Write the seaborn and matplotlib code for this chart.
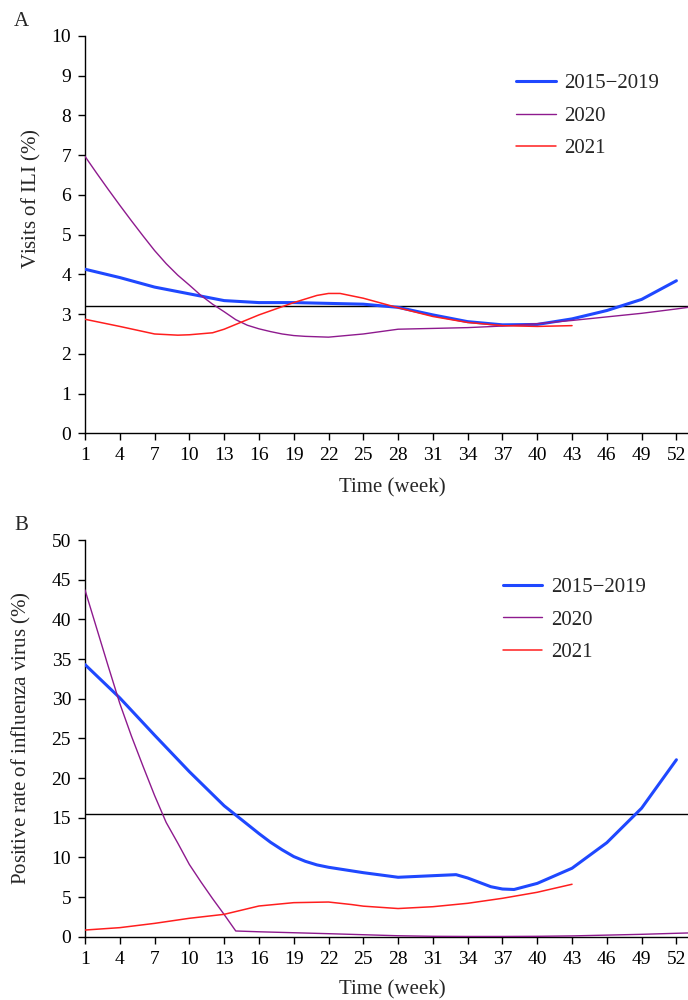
import numpy as np
import pandas as pd
import matplotlib
matplotlib.use("Agg")
import matplotlib.pyplot as plt
import seaborn as sns

# ---- panel A: ILI visits (%) ----
weeks_a_base = [1, 4, 7, 10, 13, 16, 19, 22, 25, 28, 31, 34, 37, 40, 43, 46, 49, 52]
ili_base = [4.13, 3.92, 3.68, 3.51, 3.34, 3.29, 3.29, 3.27, 3.25, 3.17, 2.98, 2.81, 2.73, 2.74, 2.88, 3.09, 3.37, 3.84]

weeks_a_2020 = [1, 2, 3, 4, 5, 6, 7, 8, 9, 10, 11, 12, 13, 14, 15, 16, 17, 18, 19, 20,
                22, 25, 28, 31, 34, 37, 40, 43, 46, 49, 52, 53]
ili_2020 = [6.97, 6.55, 6.14, 5.74, 5.35, 4.97, 4.60, 4.27, 3.98, 3.73, 3.47, 3.25, 3.06, 2.86, 2.72, 2.63,
            2.56, 2.50, 2.46, 2.44, 2.42, 2.50, 2.62, 2.64, 2.66, 2.70, 2.76, 2.84, 2.93, 3.02, 3.13, 3.17]

weeks_a_2021 = [1, 4, 7, 9, 10, 12, 13, 14, 16, 19, 21, 22, 23, 25, 28, 31, 34, 37, 40, 43]
ili_2021 = [2.87, 2.69, 2.50, 2.47, 2.48, 2.53, 2.62, 2.74, 2.98, 3.29, 3.47, 3.52, 3.52, 3.40, 3.16, 2.94, 2.79, 2.71, 2.69, 2.71]

ili_threshold = 3.2

# ---- panel B: positive rate of influenza virus (%) ----
weeks_b_base = [1, 4, 7, 10, 13, 16, 17, 18, 19, 20, 21, 22, 25, 28, 31, 33, 34, 36, 37, 38, 40, 43, 46, 49, 52]
pos_base = [34.3, 30.1, 25.4, 20.8, 16.5, 13.0, 11.9, 10.95, 10.1, 9.5, 9.05, 8.75, 8.07, 7.49, 7.69, 7.82, 7.40,
            6.30, 6.01, 5.95, 6.72, 8.63, 11.85, 16.2, 22.3]

weeks_b_2020 = [1, 2, 3, 4, 5, 6, 7, 8, 9, 10, 11, 12, 13, 14, 16, 19, 22, 25, 28, 31, 34, 37, 40, 43, 46, 49, 52, 53]
pos_2020 = [43.7, 38.9, 34.1, 29.4, 25.3, 21.5, 17.8, 14.4, 11.8, 9.1, 6.9, 4.8, 2.8, 0.72,
            0.62, 0.50, 0.38, 0.25, 0.12, 0.05, 0.03, 0.03, 0.05, 0.10, 0.20, 0.30, 0.43, 0.47]

weeks_b_2021 = [1, 4, 7, 10, 13, 16, 19, 22, 24, 25, 28, 31, 34, 37, 40, 43]
pos_2021 = [0.84, 1.14, 1.68, 2.32, 2.82, 3.87, 4.29, 4.37, 4.05, 3.85, 3.55, 3.78, 4.21, 4.84, 5.60, 6.61]

pos_threshold = 15.5

series_names = ["2015\u22122019", "2020", "2021"]
colors = ["#1f48ff", "#8e1a8e", "#ff1e1e"]
widths = [2.2, 1.0, 1.1]

sns.set_style("ticks")
plt.rcParams["font.family"] = ["Liberation Serif", "DejaVu Serif"]
plt.rcParams["mathtext.fontset"] = "custom"
plt.rcParams["mathtext.rm"] = "Liberation Serif"
plt.rcParams["mathtext.it"] = "Liberation Serif:italic"

fig = plt.figure(figsize=(6.88, 10), dpi=100)
ax_a = fig.add_axes([85 / 688, 1 - 433.3 / 1000, 603 / 688, 397.3 / 1000])
ax_b = fig.add_axes([85 / 688, 1 - 936.7 / 1000, 603 / 688, 396.7 / 1000])


def draw_panel(ax, data, threshold, ymax, ystep, ylabel, ylabel_xy, xlabel_y, leg_pos):
    ax.axhline(threshold, color="black", lw=1.0, zorder=1)
    for (wk, vals), name, c, lw in zip(data, series_names, colors, widths):
        df = pd.DataFrame({"week": wk, "value": vals})
        sns.lineplot(data=df, x="week", y="value", color=c, lw=lw, label=name, ax=ax, zorder=3)
    ax.set_xlim(1, 53)
    ax.set_ylim(0, ymax)
    ax.set_xticks(range(1, 53, 3))
    ax.set_yticks(np.arange(0, ymax + 0.1, ystep))
    sns.despine(ax=ax)
    for s in ["left", "bottom"]:
        ax.spines[s].set_linewidth(1.0)
        ax.spines[s].set_color("black")
    ax.tick_params(direction="out", length=5, width=1.0, colors="black",
                   labelsize=14, pad=5)
    ax.set_xlabel("Time (week)", fontsize=15)
    ax.set_ylabel(ylabel, fontsize=15)
    ax.xaxis.set_label_coords(0.51, xlabel_y)
    ax.yaxis.set_label_coords(*ylabel_xy)
    ax.legend(loc="upper left", bbox_to_anchor=leg_pos, frameon=False, fontsize=15,
              handlelength=1.9, handletextpad=0.4, labelspacing=0.62,
              borderpad=0, borderaxespad=0)


draw_panel(ax_a,
           [(weeks_a_base, ili_base), (weeks_a_2020, ili_2020), (weeks_a_2021, ili_2021)],
           ili_threshold, 10, 1, "Visits of ILI ($\\mathit{\\%}$)",
           (-0.07, 0.59), -0.112, (0.715, 0.905))
draw_panel(ax_b,
           [(weeks_b_base, pos_base), (weeks_b_2020, pos_2020), (weeks_b_2021, pos_2021)],
           pos_threshold, 50, 5, "Positive rate of influenza virus ($\\mathit{\\%}$)",
           (-0.086, 0.5), -0.109, (0.693, 0.905))

fig.text(14 / 688, 1 - 22 / 1000, "A", fontsize=15, ha="left", va="center")
fig.text(14 / 688, 1 - 525 / 1000, "B", fontsize=15, ha="left", va="center")

fig.savefig("out.png", dpi=100)
